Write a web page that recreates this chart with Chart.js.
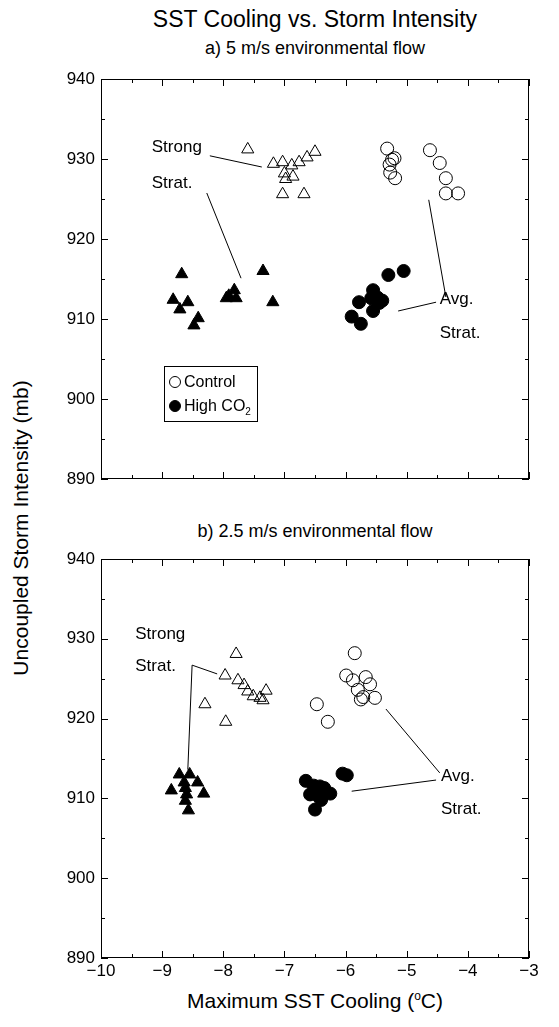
<!DOCTYPE html>
<html lang="en">
<head>
    <meta charset="UTF-8">
    <title>SST Cooling vs. Storm Intensity</title>
    <style>
        body {
            margin: 0;
            background: #fff;
            font-family: "Liberation Sans", Arial, sans-serif;
            color: #000;
        }
        .page {
            position: relative;
            width: 559px;
            height: 1027px;
        }
        .txt {
            position: absolute;
            white-space: nowrap;
            transform: translate(-50%, -50%);
        }
        .panel {
            position: absolute;
            left: 0;
            width: 559px;
        }
        .legend {
            position: absolute;
            left: 164px;
            top: 366px;
            width: 92px;
            height: 54px;
            border: 1px solid #000;
            font-size: 16px;
        }
        .legend div {
            position: absolute;
            left: 4px;
            line-height: 18px;
        }
        .sym {
            display: inline-block;
            width: 10px;
            height: 10px;
            border-radius: 50%;
            border: 1px solid #000;
            margin-right: 3px;
            vertical-align: -1px;
        }
    </style>
</head>
<body>
<div class="page">
    <div class="txt" style="left:315px; top:19px; font-size:23px;">SST Cooling vs. Storm Intensity</div>
    <div class="txt" style="left:315px; top:48px; font-size:18px;">a) 5 m/s environmental flow</div>
    <div class="txt" style="left:315px; top:531px; font-size:18px;">b) 2.5 m/s environmental flow</div>
    <div class="txt" style="left:315px; top:1001px; font-size:21px;">Maximum SST Cooling (<sup style="font-size:12px;">o</sup>C)</div>
    <div class="txt" style="left:21px; top:528px; font-size:21px; transform: translate(-50%, -50%) rotate(-90deg);">Uncoupled Storm Intensity (mb)</div>

    <div class="panel" style="top:60px; height:440px;"><canvas id="chartA"></canvas></div>
    <div class="panel" style="top:540px; height:450px;"><canvas id="chartB"></canvas></div>

    <div class="legend">
        <div style="top:6px;"><span class="sym"></span>Control</div>
        <div style="top:30px;"><span class="sym" style="background:#000;"></span>High CO<sub style="font-size:10px;">2</sub></div>
    </div>
</div>

<script src="https://cdn.jsdelivr.net/npm/chart.js"></script>
<script>
    // axis ranges and tick labels
    const xTicks = [-10, -9, -8, -7, -6, -5, -4, -3];
    const yTicks = [890, 900, 910, 920, 930, 940];

    // panel a) 5 m/s flow
    const aCtrlStrongX = [-7.6, -7.18, -7.03, -6.88, -6.76, -6.63, -6.5, -7.0, -6.86, -6.98, -7.03, -6.68];
    const aCtrlStrongY = [931.2, 929.4, 929.6, 929.2, 929.6, 930.2, 930.9, 928.2, 927.8, 927.5, 925.6, 925.6];
    const aCtrlAvgX = [-5.32, -5.24, -5.28, -5.2, -5.27, -5.19, -4.62, -4.46, -4.36, -4.36, -4.16];
    const aCtrlAvgY = [931.3, 929.9, 929.3, 930.1, 928.3, 927.6, 931.1, 929.5, 927.6, 925.7, 925.7];
    const aCo2StrongX = [-8.68, -8.82, -8.58, -8.71, -8.41, -8.48, -7.91, -7.82, -7.79, -7.35, -7.19, -7.95];
    const aCo2StrongY = [915.6, 912.4, 912.1, 911.2, 910.1, 909.2, 912.9, 913.6, 912.6, 916.0, 912.1, 912.6];
    const aCo2AvgX = [-5.9, -5.75, -5.78, -5.55, -5.58, -5.48, -5.4, -5.55, -5.3, -5.05, -5.45];
    const aCo2AvgY = [910.3, 909.4, 912.1, 913.6, 912.6, 912.7, 912.3, 911.0, 915.5, 916.0, 912.0];

    // panel b) 2.5 m/s flow
    const bCtrlStrongX = [-7.79, -7.97, -7.76, -7.66, -7.6, -7.51, -7.4, -7.3, -7.35, -8.3, -7.96];
    const bCtrlStrongY = [928.1, 925.4, 924.8, 924.2, 923.4, 922.8, 922.6, 923.5, 922.3, 921.8, 919.6];
    const bCtrlAvgX = [-5.85, -5.99, -5.88, -5.8, -5.67, -5.6, -5.71, -5.52, -5.75, -6.47, -6.29];
    const bCtrlAvgY = [928.2, 925.4, 924.8, 923.6, 925.2, 924.3, 922.7, 922.6, 922.4, 921.8, 919.6];
    const bCo2StrongX = [-8.85, -8.72, -8.55, -8.64, -8.62, -8.6, -8.62, -8.57, -8.42, -8.32];
    const bCo2StrongY = [911.0, 913.0, 913.0, 912.0, 911.3, 910.5, 909.7, 908.5, 912.0, 910.6];
    const bCo2AvgX = [-6.65, -6.52, -6.42, -6.58, -6.45, -6.35, -6.25, -6.4, -6.5, -6.05, -5.98];
    const bCo2AvgY = [912.2, 911.6, 911.5, 910.5, 910.3, 911.3, 910.6, 909.8, 908.6, 913.1, 912.9];

    const FONT = '"Liberation Sans", Arial, sans-serif';

    function pts(xs, ys) {
        return xs.map((x, i) => ({ x: x, y: ys[i] }));
    }

    function series(xs, ys, style, filled) {
        return {
            data: pts(xs, ys),
            pointStyle: style,
            pointRadius: style === 'triangle' ? 7 : 6.5,
            pointBackgroundColor: filled ? '#000' : 'rgba(255,255,255,0)',
            pointBorderColor: '#000',
            pointBorderWidth: 1,
            showLine: false
        };
    }

    // frame with inward tick marks, plus the text labels and leader lines
    const framePlugin = {
        id: 'frame',
        afterDraw(chart, args, opts) {
            const ctx = chart.ctx;
            const a = chart.chartArea;
            const xs = chart.scales.x, ys = chart.scales.y;
            ctx.save();
            ctx.strokeStyle = '#000';
            ctx.lineWidth = 1;
            ctx.strokeRect(a.left + 0.5, a.top + 0.5, a.right - a.left - 1, a.bottom - a.top - 1);
            ctx.beginPath();
            for (let v = xTicks[0]; v <= xTicks[xTicks.length - 1]; v += 0.5) {
                const p = Math.round(xs.getPixelForValue(v)) + 0.5;
                const len = Number.isInteger(v) ? 7 : 4;
                ctx.moveTo(p, a.bottom); ctx.lineTo(p, a.bottom - len);
                ctx.moveTo(p, a.top); ctx.lineTo(p, a.top + len);
            }
            for (let v = yTicks[0]; v <= yTicks[yTicks.length - 1]; v += 5) {
                const p = Math.round(ys.getPixelForValue(v)) + 0.5;
                const len = v % 10 === 0 ? 7 : 4;
                ctx.moveTo(a.left, p); ctx.lineTo(a.left + len, p);
                ctx.moveTo(a.right, p); ctx.lineTo(a.right - len, p);
            }
            ctx.stroke();

            ctx.beginPath();
            (opts.lines || []).forEach(l => {
                ctx.moveTo(xs.getPixelForValue(l[0]), ys.getPixelForValue(l[1]));
                ctx.lineTo(xs.getPixelForValue(l[2]), ys.getPixelForValue(l[3]));
            });
            ctx.stroke();

            ctx.fillStyle = '#000';
            ctx.font = '17px ' + FONT;
            ctx.textAlign = 'left';
            ctx.textBaseline = 'middle';
            (opts.texts || []).forEach(t => {
                ctx.fillText(t[2], xs.getPixelForValue(t[0]), ys.getPixelForValue(t[1]));
            });
            ctx.restore();
        }
    };

    function makeChart(id, datasets, showX, xHeight, notes) {
        return new Chart(document.getElementById(id), {
            type: 'scatter',
            data: { datasets: datasets },
            options: {
                responsive: true,
                maintainAspectRatio: false,
                animation: false,
                layout: { padding: { top: 19, right: 30, left: 0, bottom: 0 } },
                plugins: {
                    legend: { display: false },
                    tooltip: { enabled: false },
                    frame: notes
                },
                scales: {
                    x: {
                        type: 'linear',
                        min: xTicks[0],
                        max: xTicks[xTicks.length - 1],
                        afterBuildTicks: s => { s.ticks = xTicks.map(v => ({ value: v })); },
                        ticks: {
                            display: showX,
                            color: '#000',
                            font: { size: 17, family: FONT },
                            padding: 3,
                            maxRotation: 0,
                            callback: v => String(v).replace('-', '\u2212')
                        },
                        grid: { display: false, drawTicks: false },
                        border: { display: false },
                        afterFit: s => { s.height = xHeight; }
                    },
                    y: {
                        min: yTicks[0],
                        max: yTicks[yTicks.length - 1],
                        afterBuildTicks: s => { s.ticks = yTicks.map(v => ({ value: v })); },
                        ticks: {
                            color: '#000',
                            font: { size: 17, family: FONT },
                            padding: 6
                        },
                        grid: { display: false, drawTicks: false },
                        border: { display: false },
                        afterFit: s => { s.width = 101; }
                    }
                }
            },
            plugins: [framePlugin]
        });
    }

    makeChart('chartA', [
        series(aCtrlStrongX, aCtrlStrongY, 'triangle', false),
        series(aCtrlAvgX, aCtrlAvgY, 'circle', false),
        series(aCo2StrongX, aCo2StrongY, 'triangle', true),
        series(aCo2AvgX, aCo2AvgY, 'circle', true)
    ], false, 21, {
        texts: [[-9.17, 931.5, 'Strong'], [-9.17, 927.0, 'Strat.'], [-4.46, 912.4, 'Avg.'], [-4.46, 908.25, 'Strat.']],
        lines: [[-8.22, 930.4, -7.37, 929.0], [-8.27, 925.75, -7.71, 915.1],
                [-4.64, 924.9, -4.36, 912.75], [-5.14, 911.0, -4.52, 912.1]]
    });

    makeChart('chartB', [
        series(bCtrlStrongX, bCtrlStrongY, 'triangle', false),
        series(bCtrlAvgX, bCtrlAvgY, 'circle', false),
        series(bCo2StrongX, bCo2StrongY, 'triangle', true),
        series(bCo2AvgX, bCo2AvgY, 'circle', true)
    ], true, 32, {
        texts: [[-9.44, 930.6, 'Strong'], [-9.44, 926.6, 'Strat.'], [-4.44, 912.8, 'Avg.'], [-4.44, 908.6, 'Strat.']],
        lines: [[-8.51, 926.7, -8.1, 925.6], [-8.51, 926.7, -8.58, 913.6],
                [-5.34, 921.2, -4.46, 913.2], [-5.9, 910.9, -4.52, 912.3]]
    });
</script>
</body>
</html>
